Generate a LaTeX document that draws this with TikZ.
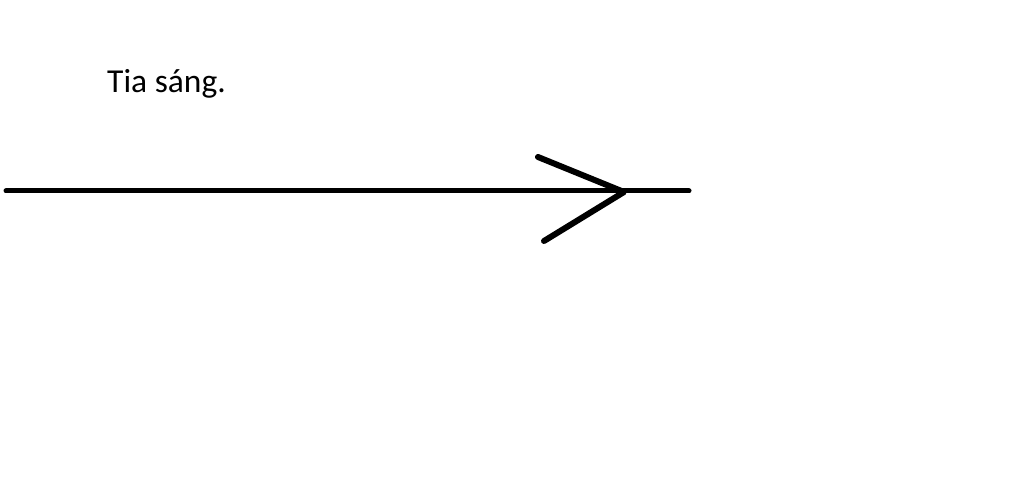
\documentclass[tikz,border=0pt]{standalone}
\usepackage{fontspec}
\setmainfont{Carlito}
\begin{document}
\begin{tikzpicture}[x=1pt,y=-1pt,
  ray/.style={line width=5pt,line cap=round,black},
  barb/.style={line width=6pt,line cap=round,line join=round,black},
  lbl/.style={anchor=base west,inner sep=0pt,font=\fontsize{33.5}{37}\selectfont}]
\useasboundingbox (0,0) rectangle (1024,486);
\coordinate (s) at (6,191);
\coordinate (e) at (689,191);
\coordinate (tip) at (624,192);
\coordinate (u) at (538,157);
\coordinate (l) at (544,241);
\draw[ray] (s) -- (e);
\draw[barb] (u) -- (tip) -- (l);
\node[lbl] (t) at (107,93) {Tia sáng.};
\end{tikzpicture}
\end{document}
